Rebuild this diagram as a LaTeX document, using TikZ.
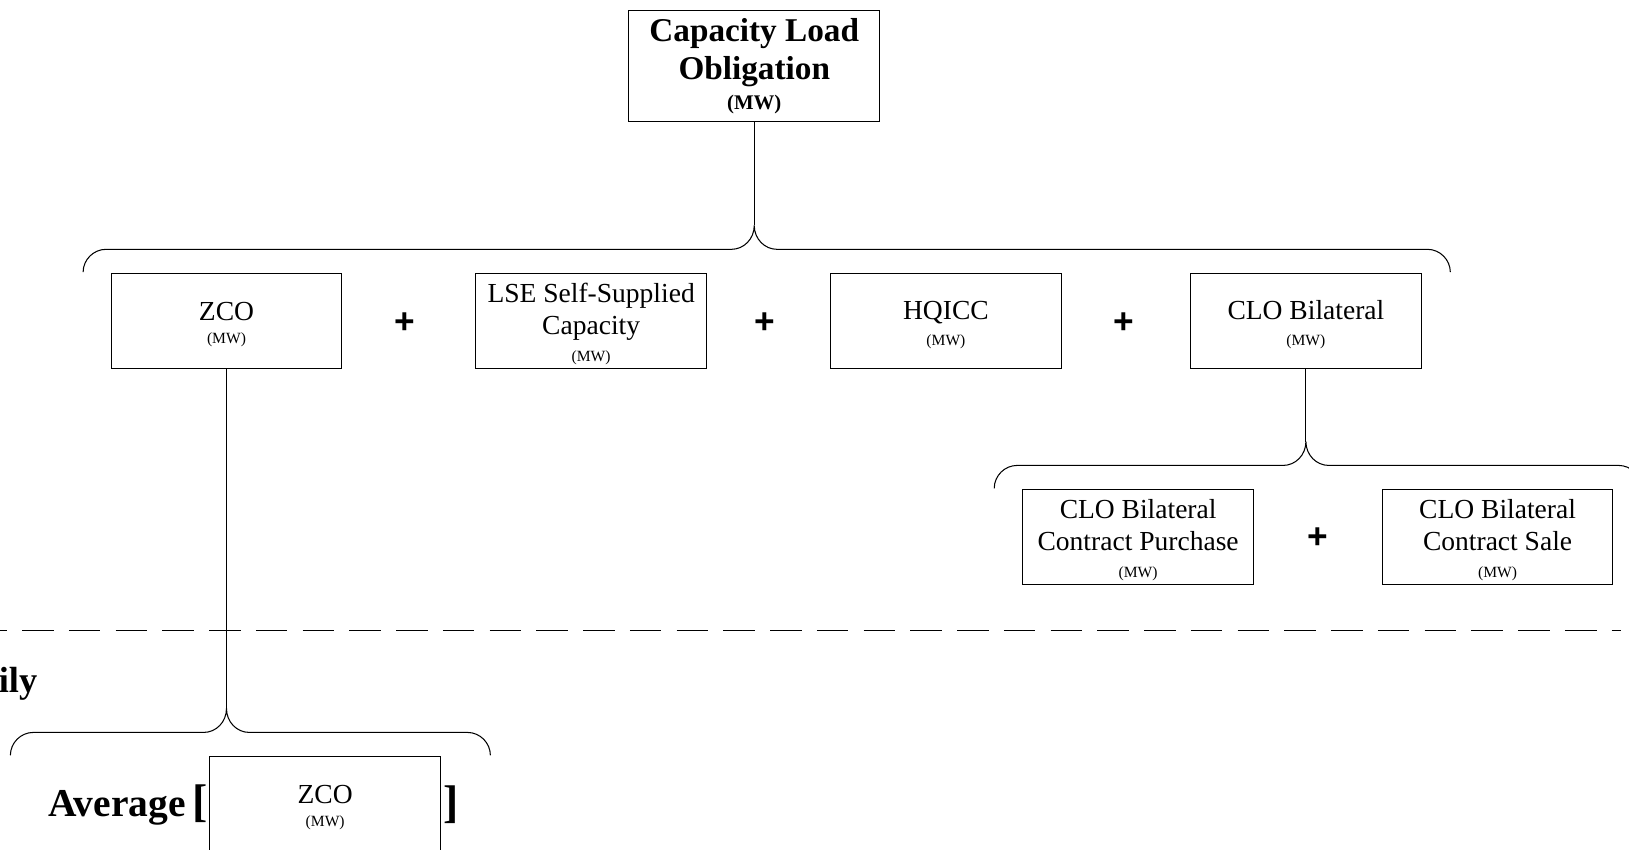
\documentclass[tikz,border=0pt]{standalone}
\usepackage{fontspec}
\setmainfont{Liberation Serif}
\newfontfamily\plusfont{Liberation Sans}
\newcommand\mwfont{\fontsize{15}{16}\selectfont}
\newcommand\tp{\rule{0pt}{24.5pt}}
\newcommand\mybrace[4]{%
  \draw[bracepath] (#1,-#4-22) .. controls (#1,-#4-10) and (#1+10,-#4) .. (#1+22,-#4)
    -- (#3-22,-#4) .. controls (#3-10,-#4) and (#3,-#4+10) .. (#3,-#4+23)
    .. controls (#3,-#4+10) and (#3+10,-#4) .. (#3+22,-#4)
    -- (#2-22,-#4) .. controls (#2-10,-#4) and (#2,-#4-10) .. (#2,-#4-22);}
\tikzset{
  box/.style={draw, line width=1pt, fill=white, minimum width=222pt, minimum height=92pt,
    inner sep=0pt, align=center, font=\fontsize{26.5}{31}\selectfont},
  plussign/.style={font=\plusfont\bfseries\fontsize{34}{34}\selectfont, inner sep=0pt},
  bracepath/.style={line width=1pt},
  bigtext/.style={font=\bfseries\fontsize{35}{38}\selectfont, inner sep=0pt},
}
\begin{document}
\begin{tikzpicture}[x=1pt,y=1pt]
\useasboundingbox (0,0) rectangle (1568,-818);
% top
\node[box, minimum width=242pt, minimum height=107pt, font=\bfseries\fontsize{32}{37}\selectfont] (clo) at (726,-63.5)
  {Capacity Load\\Obligation\\[-9pt]{\fontsize{20}{20}\selectfont(MW)}};
% big brace
\mybrace{80}{1396}{726}{240}
\coordinate (c1) at (726,-217);
\draw[line width=1pt] (clo.south) -- (c1);
% row
\node[box] (zco) at (218,-309) {\tp ZCO\\[-9pt]{\mwfont(MW)}};
\node[box] (lse) at (569,-309) {\tp LSE Self-Supplied\\Capacity\\[-5pt]{\mwfont(MW)}};
\node[box] (hq) at (910.5,-309) {\tp HQICC\\[-6pt]{\mwfont(MW)}};
\node[box] (clob) at (1257,-309) {\tp CLO Bilateral\\[-6pt]{\mwfont(MW)}};
\node[plussign] (p1) at (390,-311) {+};
\node[plussign] (p2) at (736,-311) {+};
\node[plussign] (p3) at (1082,-311) {+};
% CLO bilateral brace
\mybrace{957}{1580}{1257}{448}
\coordinate (c2) at (1257,-425);
\draw[line width=1pt] (clob.south) -- (c2);
\node[box] (pur) at (1095.5,-517) {\tp CLO Bilateral\\Contract Purchase\\[-5pt]{\mwfont(MW)}};
\node[box] (sale) at (1441.5,-517) {\tp CLO Bilateral\\Contract Sale\\[-5pt]{\mwfont(MW)}};
\node[plussign] (p4) at (1268,-518) {+};
% dashed separator
\coordinate (d1) at (0,-607);
\coordinate (d2) at (1560,-607);
\draw[line width=1.6pt, dash pattern=on 30.5pt off 14.5pt, dash phase=23.8pt] (d1) -- (d2);
\node[bigtext, anchor=base east] (ily) at (36,-667) {ily};
% bottom brace
\mybrace{10}{472}{218}{705}
\coordinate (c3) at (218,-683);
\draw[line width=1pt] (zco.south) -- (c3);
\node[box] (zco2) at (313,-774) {\tp ZCO\\[-9pt]{\mwfont(MW)}};
\node[bigtext, font=\bfseries\fontsize{38}{40}\selectfont, anchor=east] (avg) at (200,-775) {Average\,{\fontsize{44}{44}\selectfont[}};
\node[bigtext, anchor=west] (rb) at (427,-775) {{\fontsize{44}{44}\selectfont]}};
\end{tikzpicture}
\end{document}
